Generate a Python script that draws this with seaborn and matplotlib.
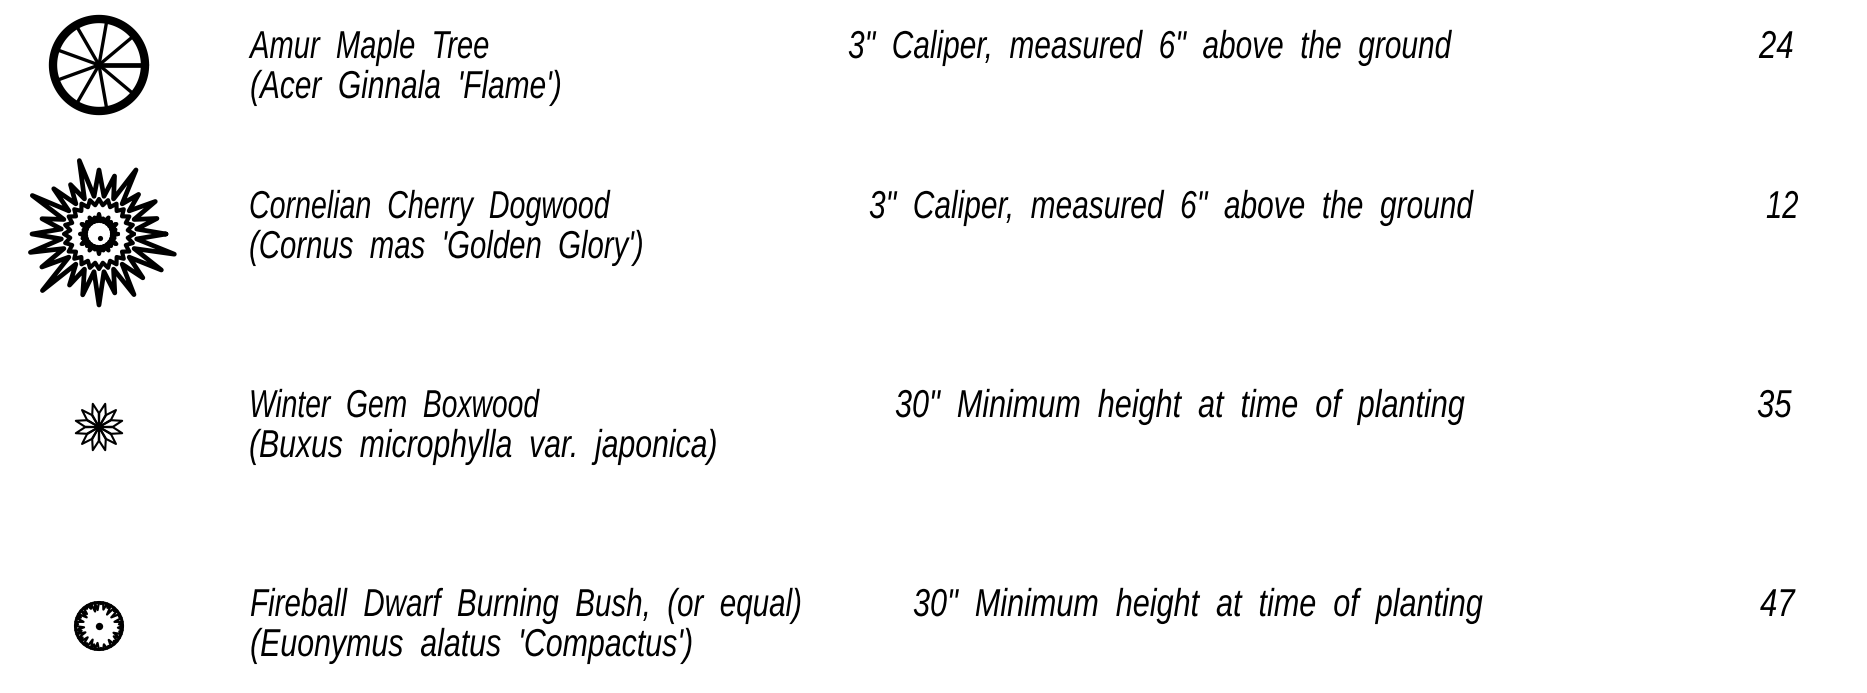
"""
Plant schedule legend, symbols + text rows
"""

import numpy as np
import pandas as pd
import matplotlib.pyplot as plt
import matplotlib.patheffects as pe
from matplotlib.transforms import Affine2D
import seaborn as sns

# Schedule rows
common_names = ["Amur Maple Tree", "Cornelian Cherry Dogwood", "Winter Gem Boxwood",
                "Fireball Dwarf Burning Bush, (or equal)"]
latin_names = ["(Acer Ginnala 'Flame')", "(Cornus mas 'Golden Glory')",
               "(Buxus microphylla var. japonica)", "(Euonymus alatus 'Compactus')"]
sizes = ['3" Caliper, measured 6" above the ground', '3" Caliper, measured 6" above the ground',
         '30" Minimum height at time of planting', '30" Minimum height at time of planting']
quantities = ["24", "12", "35", "47"]

# Symbol outlines, radii in px
maple_spokes = [0, 40, 80, 120, 160, 200, 240, 280, 320]
dogwood_tips = [67, 60, 65, 56, 74, 60, 64, 76, 57, 64, 77, 59,
                67, 71, 66, 80, 59, 63, 71, 61, 70, 62, 72, 78]
dogwood_bumps = [19, 17, 20, 17, 19, 16, 20, 17, 19, 17, 20, 16,
                 19, 17, 20, 17, 19, 16, 20, 17, 19, 17, 20, 16]
bush_inner = [20, 16, 22, 15, 21, 14, 20, 17, 22, 16, 15, 19, 21, 17, 15, 20, 16, 21,
              15, 18, 15, 20, 16, 21, 15, 19, 17, 22, 19, 22, 17, 21, 18, 16, 21, 19]

# Layout in px
FIG_W, FIG_H = 1867, 693
NAME_X = [250, 249, 249, 250]
LINE1_Y = [58, 218, 417, 616]
LINE2_Y = [98, 258, 457, 656]
SIZE_X = [848, 869, 895, 913]
QTY_X = [1759, 1766, 1757, 1760]
SYMBOL_X = 99
SYMBOL_Y = [65, 234, 427, 626]
FONT = ["Liberation Sans", "DejaVu Sans"]
FONT_SIZE = 28
# horizontal squeeze per string, fitted to the text widths in the reference
NAME_SQUEEZE = [0.75, 0.735, 0.726, 0.76]
LATIN_SQUEEZE = [0.768, 0.755, 0.776, 0.78]
SIZE_SQUEEZE = [0.767, 0.768, 0.786, 0.786]
QTY_SQUEEZE = [0.80, 0.75, 0.80, 0.80]


class Squeeze(pe.AbstractPathEffect):
    # no condensed font here, so narrow the glyphs when they are drawn
    def __init__(self, sx):
        super().__init__()
        self.sx = sx

    def draw_path(self, renderer, gc, tpath, affine, rgbFace=None):
        renderer.draw_path(gc, tpath, Affine2D().scale(self.sx, 1) + affine, rgbFace)


def path(ax, radii, angles, cy, lw, cx=SYMBOL_X):
    a = np.radians(angles)
    df = pd.DataFrame({"x": cx + np.asarray(radii, dtype=float) * np.cos(a),
                       "y": cy - np.asarray(radii, dtype=float) * np.sin(a)})
    sns.lineplot(data=df, x="x", y="y", sort=False, estimator=None, color="black",
                 linewidth=lw, solid_joinstyle="round", solid_capstyle="round", ax=ax, legend=False)


def ring(ax, r, cy, lw, cx=SYMBOL_X):
    ang = np.linspace(0, 360, 121)
    path(ax, np.full(ang.shape, r), ang, cy, lw, cx)


def dot(ax, cx, cy, size):
    sns.scatterplot(x=[cx], y=[cy], s=size, color="black", linewidth=0, ax=ax, legend=False)


sns.set_theme(style="white")
plt.rcParams["font.family"] = FONT

fig = plt.figure(figsize=(FIG_W / 100, FIG_H / 100), dpi=100)
ax = fig.add_axes([0, 0, 1, 1])

# Amur maple: wheel
ring(ax, 46, SYMBOL_Y[0], 6)
for deg in maple_spokes:
    path(ax, [0, 44], [deg, deg], SYMBOL_Y[0], 3.4 if deg == 0 else 2.4)

# Dogwood: spiky star with two inner rings
cy = SYMBOL_Y[1]
n = len(dogwood_tips)
ang, rad = [], []
for i in range(n):
    ang += [i * 15, i * 15 + 7.5]
    rad += [dogwood_tips[i], 38]
path(ax, rad + rad[:1], ang + ang[:1], cy, 3.4)
ang, rad = [], []
for i in range(n):
    ang += [i * 15, i * 15 + 7.5]
    rad += [35, 29]
path(ax, rad + rad[:1], ang + ang[:1], cy, 3)
ang, rad = [], []
for i in range(n):
    ang += [i * 15, i * 15 + 7.5]
    rad += [dogwood_bumps[i], 13]
path(ax, rad + rad[:1], ang + ang[:1], cy, 3)
ring(ax, 13, cy, 2.6)
dot(ax, 99.5, 238, 14)

# Boxwood: twelve petals
cy = SYMBOL_Y[2]
for k in range(12):
    tip = 15 + 30 * k
    path(ax, [0, 14, 24, 14, 0], [tip - 14, tip - 14, tip, tip + 14, tip + 14], cy, 1.5)
dot(ax, SYMBOL_X, cy, 14)

# Burning bush: ragged ring
cy = SYMBOL_Y[3]
ang, rad = [], []
for i, r in enumerate(bush_inner):
    ang += [i * 10, i * 10 + 5]
    rad += [24, r]
path(ax, rad + rad[:1], ang + ang[:1], cy, 1.6)
ring(ax, 23.5, cy, 2.2)
dot(ax, SYMBOL_X, cy, 28)

# Text rows, wide word gaps like the CAD font
for i in range(4):
    for txt, x, y, sx in [(common_names[i], NAME_X[i], LINE1_Y[i], NAME_SQUEEZE[i]),
                          (latin_names[i], NAME_X[i], LINE2_Y[i], LATIN_SQUEEZE[i]),
                          (sizes[i], SIZE_X[i], LINE1_Y[i], SIZE_SQUEEZE[i]),
                          (quantities[i], QTY_X[i], LINE1_Y[i], QTY_SQUEEZE[i])]:
        ax.text(x, y, txt.replace(" ", "  "), fontsize=FONT_SIZE, style="italic",
                color="black", ha="left", va="baseline",
                path_effects=[Squeeze(sx)])

ax.set_xlim(0, FIG_W)
ax.set_ylim(FIG_H, 0)
ax.set_axis_off()

fig.savefig("out.png", dpi=100, facecolor="white")
